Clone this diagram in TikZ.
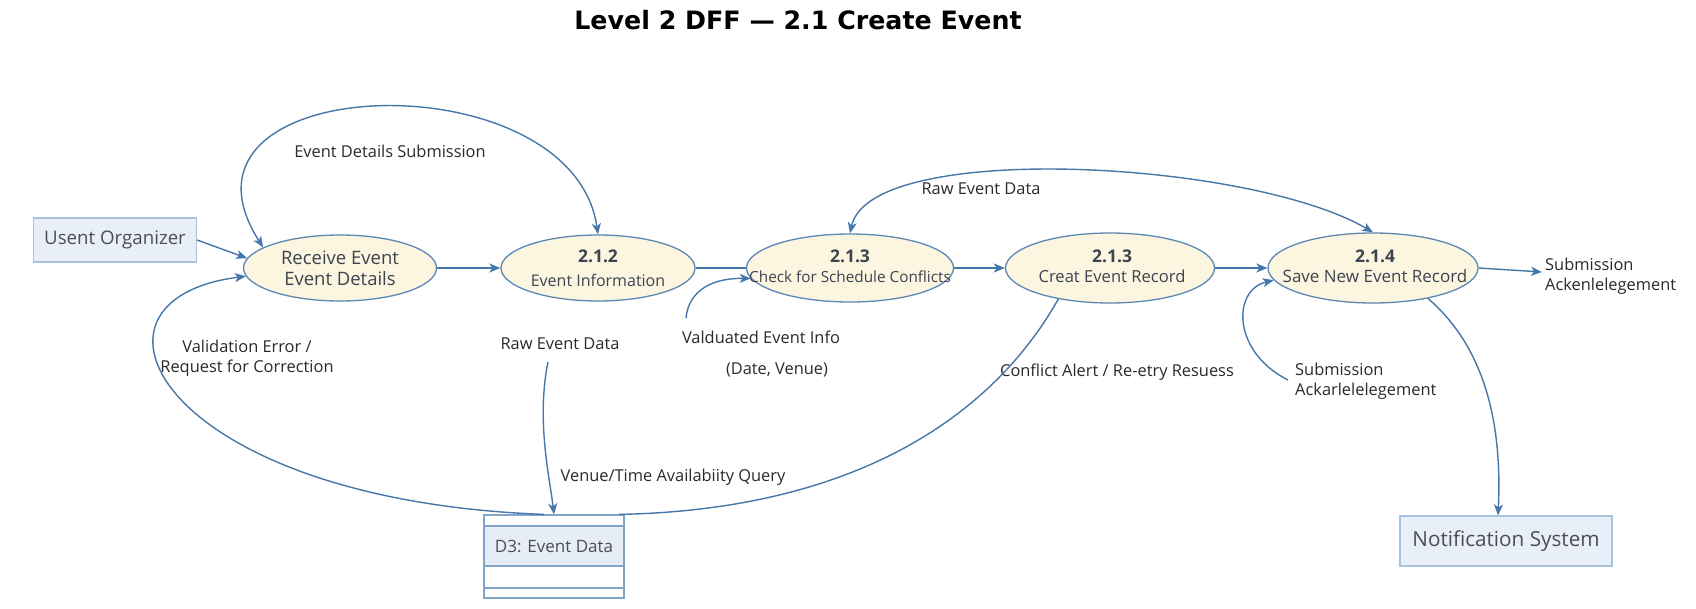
\documentclass[tikz,border=0pt]{standalone}
\usepackage{fontspec}
\setmainfont{Open Sans}
\newfontfamily\titlefont{DejaVu Sans}
\usetikzlibrary{arrows.meta,shapes.geometric}
\definecolor{flowc}{HTML}{4677AA}
\definecolor{procfill}{HTML}{FCF5DF}
\definecolor{procborder}{HTML}{5C88B4}
\definecolor{proctext}{HTML}{3B4450}
\definecolor{entfill}{HTML}{E8EFF8}
\definecolor{entborder}{HTML}{A8C3DD}
\definecolor{enttext}{HTML}{4A4F57}
\definecolor{lbltext}{HTML}{2A2A2A}
\definecolor{storeborder}{HTML}{7FA6C9}
\definecolor{storefill}{HTML}{E6EDF7}
\begin{document}
\begin{tikzpicture}[x=1pt,y=-1pt,
  flow/.style={draw=flowc, line width=1.4pt, -{Stealth[length=11pt,width=9pt,inset=3pt]}},
  biflow/.style={draw=flowc, line width=1.4pt, {Stealth[length=11pt,width=9pt,inset=3pt]}-{Stealth[length=11pt,width=9pt,inset=3pt]}},
  flowline/.style={draw=flowc, line width=1.4pt},
  proc/.style={ellipse, draw=procborder, fill=procfill, line width=1.3pt, inner sep=0pt},
  ptext/.style={text=proctext, align=center, inner sep=0pt},
  pnum/.style={},
  ent/.style={rectangle, draw=entborder, fill=entfill, line width=1.2pt, text=enttext, font=\fontsize{18.7}{22}\selectfont, inner sep=0pt},
  lbl/.style={text=lbltext, font=\fontsize{16.4}{19.5}\selectfont, inner sep=0pt},
  storeline/.style={draw=storeborder, line width=1.2pt}
]
\newcommand{\pn}[1]{{\bfseries\fontsize{17.5}{19.5}\selectfont #1}}
\fill[white] (0,0) rectangle (1696,608);
\useasboundingbox (0,0) rectangle (1696,608);

% title
\node[font=\titlefont\bfseries\fontsize{25.3}{29}\selectfont, text=black] (title) at (798,20) {Level 2 DFF — 2.1 Create Event};

% external entities
\node[ent, minimum width=163pt, minimum height=44pt] (org) at (115,240) {Usent Organizer};
\node[ent, minimum width=212pt, minimum height=50pt, font=\fontsize{20.7}{24}\selectfont] (notif) at (1506,541) {Notification System};

% data store
\fill[storefill] (484,526) rectangle (624,566);
\node[draw=storeborder, line width=1.2pt, minimum width=140pt, minimum height=83pt, inner sep=0pt] (d3) at (554,556.5) {};
\draw[storeline] (484,526) -- (624,526);
\draw[storeline] (484,566) -- (624,566);
\draw[storeline] (484,588) -- (624,588);
\node[font=\fontsize{17}{20}\selectfont, text=enttext, inner sep=0pt] (d3t) at (554,546) {D3: Event Data};

% processes
\node[proc, minimum width=193pt, minimum height=66pt] (e1) at (340,268) {};
\node[ptext, font=\fontsize{18.5}{21}\selectfont] (e1t) at (340,268.5) {Receive Event\\Event Details};
\node[proc, minimum width=194pt, minimum height=66pt] (e2) at (598,268) {};
\node[ptext, font=\fontsize{16}{24}\selectfont] (e2t) at (598,268) {\pn{2.1.2}\\Event Information};
\node[proc, minimum width=207pt, minimum height=68pt] (e3) at (850,268) {};
\node[ptext, font=\fontsize{15.3}{19.5}\selectfont] (e3t) at (850,266) {\pn{2.1.3}\\Check for Schedule Conflicts};
\node[proc, minimum width=209pt, minimum height=70pt] (e4) at (1110,268) {};
\node[ptext, font=\fontsize{16.6}{19.5}\selectfont] (e4t) at (1112,266) {\pn{2.1.3}\\Creat Event Record};
\node[proc, minimum width=210pt, minimum height=70pt] (e5) at (1373,268) {};
\node[ptext, font=\fontsize{17}{19.5}\selectfont] (e5t) at (1375,266) {\pn{2.1.4}\\Save New Event Record};

% labels
\node[lbl] (l1) at (390,151) {Event Details Submission};
\node[lbl, align=center] (l2) at (247,358) {Validation Error /\\Request for Correction};
\node[lbl] (l3) at (560,344) {Raw Event Data};
\node[lbl] (l4) at (761,337) {Valduated Event Info};
\node[lbl] (l5) at (777,370) {(Date, Venue)};
\node[lbl] (l6) at (981,189) {Raw Event Data};
\node[lbl] (l7) at (1117,372) {Conflict Alert / Re-etry Resuess};
\node[lbl] (l8) at (673,477) {Venue/Time Availabiity Query};
\node[lbl, align=left, anchor=west] (l9) at (1295,381) {Submission\\Ackarlelelegement};
\node[lbl, align=left, anchor=west] (ack1) at (1545,276) {Submission\\Ackenlelegement};

% free ends
\coordinate (rawstart) at (548,362);
\coordinate (valstart) at (686,318);
\coordinate (sub2start) at (1288,380);

% flows
\draw[flow] (org.east) -- (e1.174);
\draw[flow] (e1.east) -- (e2.west);
\draw[flowline] (e2.east) -- (e3.west);
\draw[flow] (e3.east) -- (e4.west);
\draw[flow] (e4.east) -- (e5.west);
\draw[flow] (e5.east) -- ([xshift=-3pt,yshift=4pt]ack1.west);
\draw[biflow] (e1.165) .. controls (150,70) and (572,56) .. (e2.north);
\draw[flow] ([xshift=-10pt]d3.north) .. controls (160,500) and (60,300) .. (e1.185);
\draw[flow] (rawstart) .. controls (536,420) and (550,480) .. (d3.north);
\draw[flowline] (e4.211) .. controls (990,420) and (850,510) .. ([xshift=65pt]d3.north);
\draw[flow] (valstart) .. controls (688,296) and (705,278) .. (e3.186);
\draw[biflow] (e3.north) .. controls (870,140) and (1250,160) .. (e5.north);
\draw[flow] (sub2start) .. controls (1232,352) and (1232,290) .. (e5.187);
\draw[flow] (e5.-29) .. controls (1488,350) and (1502,430) .. ([xshift=-8pt]notif.north);
\end{tikzpicture}
\end{document}
